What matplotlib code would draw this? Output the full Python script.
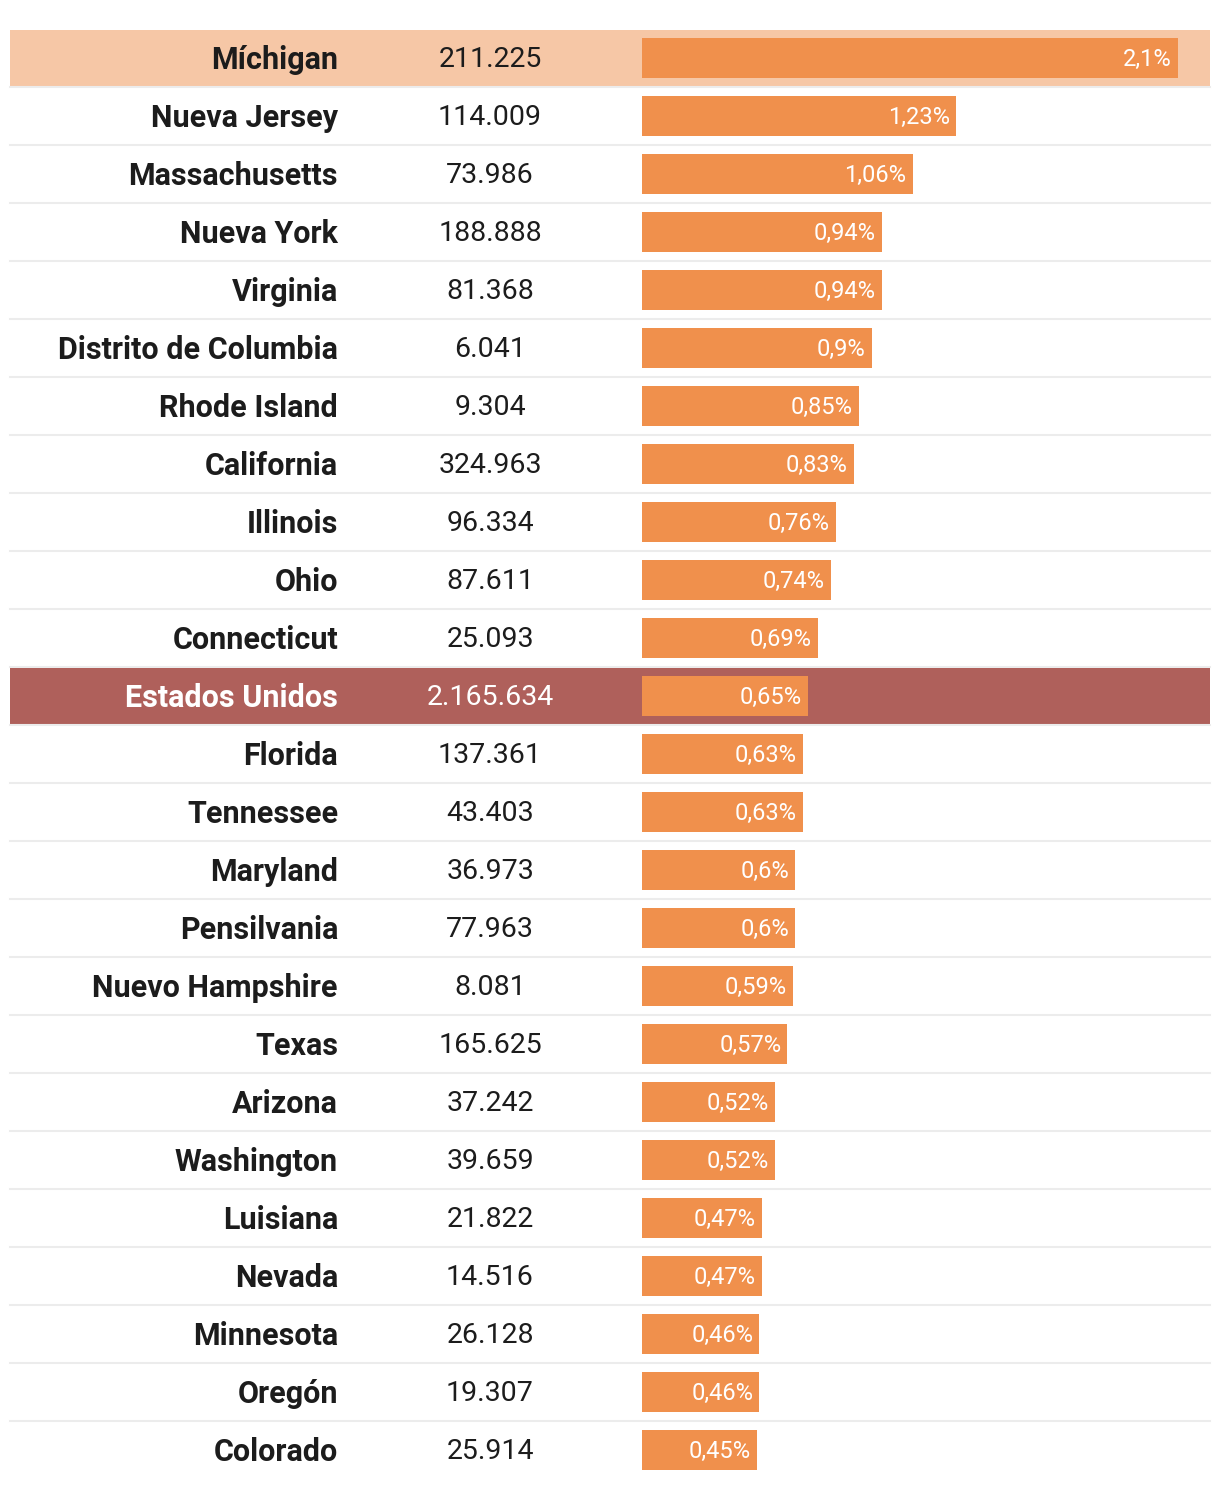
import matplotlib
matplotlib.use("Agg")
import matplotlib.pyplot as plt
import matplotlib.transforms as mtransforms

states = ["Míchigan", "Nueva Jersey", "Massachusetts", "Nueva York", "Virginia",
          "Distrito de Columbia", "Rhode Island", "California", "Illinois", "Ohio",
          "Connecticut", "Estados Unidos", "Florida", "Tennessee", "Maryland",
          "Pensilvania", "Nuevo Hampshire", "Texas", "Arizona", "Washington",
          "Luisiana", "Nevada", "Minnesota", "Oregón", "Colorado"]
counts = [211225, 114009, 73986, 188888, 81368, 6041, 9304, 324963, 96334, 87611,
          25093, 2165634, 137361, 43403, 36973, 77963, 8081, 165625, 37242, 39659,
          21822, 14516, 26128, 19307, 25914]
pcts = [2.1, 1.23, 1.06, 0.94, 0.94, 0.9, 0.85, 0.83, 0.76, 0.74, 0.69, 0.65,
        0.63, 0.63, 0.6, 0.6, 0.59, 0.57, 0.52, 0.52, 0.47, 0.47, 0.46, 0.46, 0.45]

highlight = "Míchigan"
total = "Estados Unidos"

W, H = 1220, 1488
fig = plt.figure(figsize=(W / 100, H / 100), dpi=100)
ax = fig.add_axes([0, 0, 1, 1])
ax.set_axis_off()

px_per_unit = 255.2
bar_x0 = 642
pitch = 58.0
first_center = 59.0
ax.set_xlim(-bar_x0 / px_per_unit, (W - bar_x0) / px_per_unit)
ax.set_ylim((H - first_center) / pitch, -first_center / pitch)

C_BAR = "#F0904C"
C_HL = "#F6C7A6"
C_US = "#AF605B"
C_TXT = "#1c1c1c"
C_SEP = "#ececec"

xl = 10 / W
xr = 1210 / W
n = len(states)
sep = 2 / pitch

for i, s in enumerate(states):
    if s == highlight:
        ax.axhspan(i - 0.5, i + 0.5 - sep, xmin=xl, xmax=xr, color=C_HL, lw=0, zorder=0)
    elif s == total:
        ax.axhspan(i - 0.5 + sep * 0.2, i + 0.5 - sep, xmin=xl, xmax=xr, color=C_US, lw=0, zorder=0)
    if i < n - 1:
        ax.axhline(i + 0.5 - sep / 2, xmin=xl, xmax=xr, color=C_SEP, lw=1.5, zorder=0)

ys = [i - 0.02 for i in range(n)]
ax.barh(ys, pcts, height=40 / pitch, left=0, color=C_BAR, zorder=2)

tr = mtransforms.blended_transform_factory(fig.transFigure, ax.transData)
font = "Roboto"
dy = 0.01
for i, (s, c, p) in enumerate(zip(states, counts, pcts)):
    col = "white" if s == total else C_TXT
    ax.text(338 / W, i + dy, s, transform=tr, ha="right", va="center", fontsize=22,
            fontweight="bold", color=col, family=font)
    ax.text(490 / W, i + dy, f"{c:,}".replace(",", "."), transform=tr, ha="center",
            va="center", fontsize=20.5, color=col, family=font)
    lbl = f"{p:g}".replace(".", ",") + "%"
    ax.annotate(lbl, xy=(p, i + dy), xytext=(-6, 0), textcoords="offset pixels",
                ha="right", va="center", fontsize=17,
                color="white", family=font, zorder=3)

fig.savefig("out.png", dpi=100)
